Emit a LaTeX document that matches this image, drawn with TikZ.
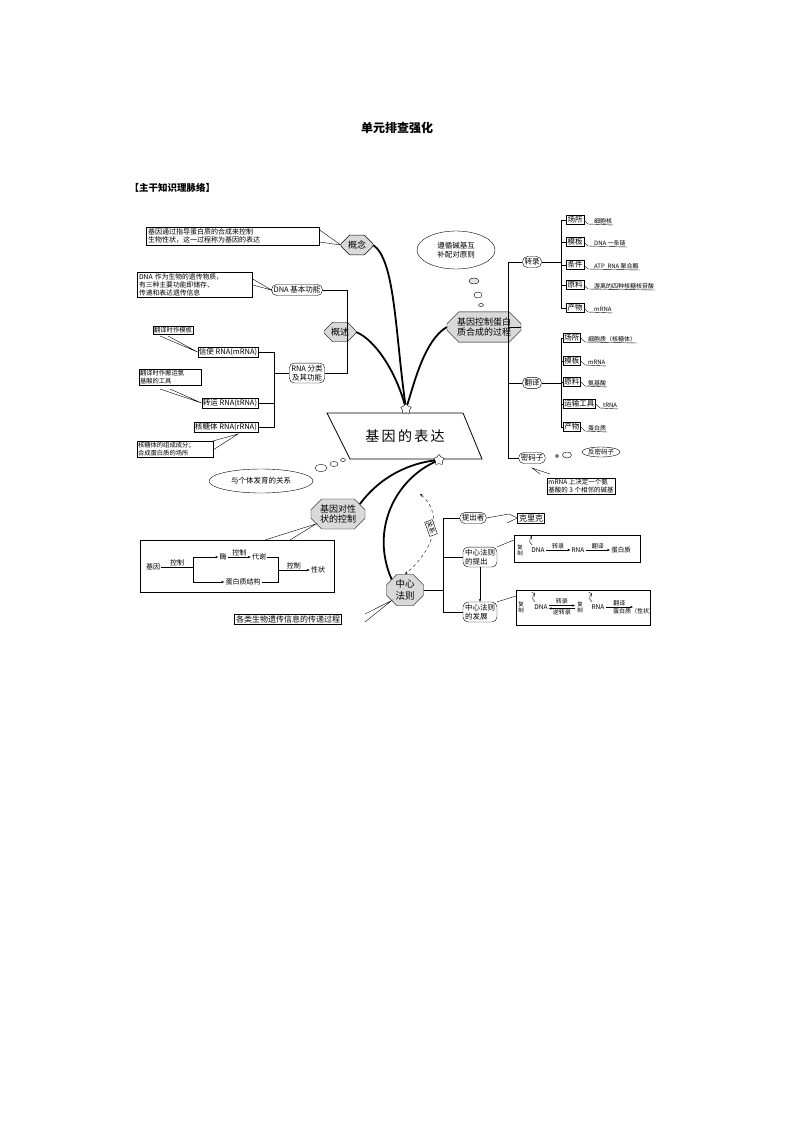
\documentclass[tikz,border=0pt]{standalone}
\usepackage{fontspec}
\setmainfont{Noto Sans CJK SC}
\usetikzlibrary{shapes.geometric,shapes.misc,shapes.symbols,arrows.meta,calc}
\begin{document}
\begin{tikzpicture}[x=1pt,y=-1pt,
 hx/.style={draw,fill=gray!30,font=\fontsize{9}{10.5}\selectfont,align=center,chamfered rectangle,chamfered rectangle xsep=5pt,inner sep=2pt},
 bx/.style={draw,font=\fontsize{7}{8.5}\selectfont,align=left,inner sep=1.5pt},
 sb/.style={draw,font=\fontsize{6.3}{7.5}\selectfont,align=left,inner sep=1.2pt},
 rb/.style={draw,rounded corners=5pt,font=\fontsize{7.5}{9}\selectfont,align=left,inner sep=2pt},
 it/.style={draw,font=\fontsize{7.5}{9}\selectfont,inner sep=1.2pt},
 val/.style={font=\fontsize{6}{7}\selectfont,inner sep=1pt,anchor=south west},
 thick curve/.style={line width=1.8pt},
 ar/.style={-{Stealth[length=3pt]},thin},
 tx/.style={font=\fontsize{7}{8}\selectfont,inner sep=1pt}]
\useasboundingbox (0,0) rectangle (794,1123);
\node[font=\bfseries\fontsize{12}{14}\selectfont] (title) at (397,128) {单元排查强化};
\node[font=\bfseries\fontsize{9.5}{11}\selectfont,anchor=west] (sub) at (126,188) {【主干知识理脉络】};

% centre
\draw[line width=0.8pt] (327,413) -- (463,413) -- (482,459) -- (350,459) -- cycle;
\node[font=\fontsize{14}{16}\selectfont] (center) at (405,436) {基\,因\,的\,表\,达};

% left top
\node[hx] (gn) at (357,245) {概念};
\node[bx,text width=170pt] (gnb) at (233,236) {基因通过指导蛋白质的合成来控制\\生物性状，这一过程称为基因的表达};
\draw ($(gnb.east)+(0,-6)$) -- (gn.west) -- ($(gnb.east)+(0,6)$);
\node[hx] (gs) at (340,332) {概述};
\node[rb] (dnaf) at (297,290) {DNA 基本功能};
\node[bx,text width=112pt,font=\fontsize{6.8}{8}\selectfont] (dnab) at (195,285) {DNA 作为生物的遗传物质，\\有三种主要功能即储存、\\传递和表达遗传信息};
\draw ($(dnab.east)+(0,-6)$) -- (dnaf.west) -- (dnab.east);
\node[rb,align=center] (rnaf) at (307,373) {RNA 分类\\及其功能};
\draw (dnaf.east) -- (347,290) -- (347,373) -- (rnaf.east);
\node[it] (m) at (228,352) {信使 RNA(mRNA)};
\node[it] (t) at (230,403) {转运 RNA(tRNA)};
\node[it] (r) at (226,427) {核糖体 RNA(rRNA)};
\draw (m.east) -- (274,352) -- (274,427) -- (r.east);
\draw (t.east) -- (274,403); \draw (274,373) -- (rnaf.west);
\node[sb] (mb) at (173,330) {翻译时作模板};
\draw (160,336) -- (m.west) -- (168,336);
\node[sb,text width=60pt] (tb) at (170,377) {翻译时作搬运氨\\基酸的工具};
\draw (160,389) -- (t.west) -- (170,389);
\node[sb,text width=74pt] (rbx) at (175,449) {核糖体的组成成分；\\合成蛋白质的场所};
\draw (213,441) -- (238,434) -- (213,450);

% right top
\node[ellipse,draw,font=\fontsize{7.5}{9}\selectfont,align=center,inner sep=0pt,minimum width=78pt,minimum height=38pt] (zx) at (456,250) {遵循碱基互\\补配对原则};
\node[ellipse,draw,fill=gray!20,minimum width=10pt,minimum height=6pt,inner sep=0pt] (b1) at (474,281) {};
\node[ellipse,draw,minimum width=8pt,minimum height=6pt,inner sep=0pt] (b2) at (478,295) {};
\node[ellipse,draw,minimum width=5pt,minimum height=3pt,inner sep=0pt] (b3) at (481,305) {};
\node[hx,chamfered rectangle xsep=8pt] (gk) at (484,327) {基因控制蛋白\\质合成的过程};
\node[rb] (zl) at (532,262) {转录};
\node[rb] (fy) at (532,383) {翻译};
\node[rb] (mmz) at (532,458) {密码子};
\draw (508,262) -- (508,458); \draw (508,262)--(zl.west); \draw (508,383)--(fy.west); \draw (508,458)--(mmz.west);
\draw (gk.east) -- (508,327);
\foreach \y/\k/\v [count=\i] in {220/场所/细胞核,242/模板/DNA 一条链,265/条件/ATP\ \ RNA 聚合酶,285/原料/游离的四种核糖核苷酸,308/产物/mRNA}{
 \node[it] (z\i) at (575,\y) {\k};
 \node[val] (zv\i) at (593,\y+5) {\v};
 \draw (z\i.east) -- ++(4,4) -- (zv\i.south east);
 \draw (561,\y) -- (z\i.west);}
\draw (561,220) -- (561,308); \draw (zl.east) -- (561,262);
\foreach \y/\k/\v [count=\i] in {338/场所/细胞质（核糖体）,361/模板/mRNA,382/原料/氨基酸,404/运输工具/tRNA,427/产物/蛋白质}{
 \node[it,anchor=west] (f\i) at (563,\y) {\k};
 \node[val] (fv\i) at ([xshift=6pt,yshift=-5pt]f\i.east) {\v};
 \draw (f\i.east) -- ++(4,4) -- (fv\i.south east);
 \draw (561,\y) -- (f\i.west);}
\draw (561,338) -- (561,427); \draw (fy.east) -- (561,383);
\node[circle,draw,minimum size=3pt,inner sep=0pt] (c1) at (557,456) {};
\node[ellipse,draw,minimum width=9pt,minimum height=6pt,inner sep=0pt] (c2) at (567,455) {};
\node[ellipse,draw,font=\fontsize{6.5}{7}\selectfont,inner sep=0.5pt] (fmz) at (601,452) {反密码子};
\node[sb,font=\fontsize{6.5}{8}\selectfont] (mrb) at (581,486) {mRNA 上决定一个氨\\基酸的 3 个相邻的碱基};
\draw (540,474) -- (532,468) -- (550,474);

% thick curves
\node[star,star points=5,draw,fill=white,minimum size=11pt,inner sep=0pt] (s1) at (406,409) {};
\draw[thick curve] (gn.east) .. controls (395,260) and (395,330) .. (s1);
\draw[thick curve] (gs.east) .. controls (375,340) and (395,370) .. (s1);
\draw[thick curve] (gk.west) .. controls (425,340) and (415,380) .. (s1);

% bottom left
\node[ellipse,draw,font=\fontsize{7.5}{9}\selectfont,minimum width=104pt,minimum height=24pt,inner sep=0pt] (gt) at (261,481) {与个体发育的关系};
\node[ellipse,draw,minimum width=12pt,minimum height=7pt,inner sep=0pt] (d1) at (321,468) {};
\node[ellipse,draw,minimum width=8pt,minimum height=5pt,inner sep=0pt] (d2) at (334,464) {};
\node[ellipse,draw,minimum width=5pt,minimum height=3pt,inner sep=0pt] (d3) at (343,460) {};
\node[hx,chamfered rectangle xsep=7pt] (xz) at (338,514) {基因对性\\状的控制};
\node[star,star points=5,draw,fill=white,minimum size=11pt,inner sep=0pt] (s2) at (439,460) {};
\draw[thick curve] (xz.north east) .. controls (385,470) and (420,462) .. (s2);
\draw (140,540) rectangle (334,592);
\draw (265,540) -- (xz.south west) -- (290,540);
\node[tx] (jy) at (153,567) {基因};
\node[tx] (mei) at (223,557) {酶};
\node[tx] (dx) at (259,557) {代谢};
\node[tx] (dbz) at (243,582) {蛋白质结构};
\node[tx] (xzz) at (318,570) {性状};
\draw (jy.east) -- (193,567) node[tx,midway,above] {控制};
\draw (193,557) -- (193,582);
\draw[ar] (193,557) -- (mei.west);
\draw[ar] (193,582) -- (dbz.west);
\draw[ar] (mei.east) -- (dx.west) node[tx,midway,above] {控制};
\draw (dx.east) -- (278,557) -- (278,582) -- (dbz.east);
\draw[ar] (278,570) -- (xzz.west) node[tx,midway,above] {控制};

% central dogma
\node[hx,chamfered rectangle xsep=7pt,font=\fontsize{9.5}{11.5}\selectfont] (zxf) at (405,590) {中心\\法则};
\draw[thick curve] (zxf.north west) .. controls (370,530) and (395,480) .. (s2);
\coordinate (rel) at (420,494);
\draw[dashed,{Stealth[length=3pt]}-{Stealth[length=3pt]}] (rel) .. controls (440,510) and (440,545) .. (zxf.north);
\node[draw,fill=white,rotate=-70,font=\fontsize{6.5}{7}\selectfont,inner sep=1pt] (gxl) at (431,528) {关系};
\node[bx,font=\fontsize{8}{9}\selectfont] (glb) at (288,619) {各类生物遗传信息的传递过程};
\draw (365,614) -- (zxf.south west) -- (365,622);
\draw (zxf.east) -- (443,590);
\draw (443,518) -- (443,612);
\node[rb] (tcz) at (473,518) {提出者};
\node[bx,font=\fontsize{8}{9}\selectfont] (klk) at (531,518) {克里克};
\draw (tcz.east) -- (509,514) -- (klk.west) -- (507,523);
\node[rb] (tc) at (480,557) {中心法则\\的提出};
\node[rb] (fz) at (480,612) {中心法则\\的发展};
\draw (443,518)--(tcz.west); \draw (443,557)--(tc.west); \draw (443,612)--(fz.west);
\draw[ar] (tc.south) -- (fz.north);
\draw (514,535) rectangle (640,562);
\draw (tc.north east) -- (514,540);
\node[font=\fontsize{5.5}{6}\selectfont,align=center,inner sep=0pt] (fz1) at (520,550) {复\\制};
\node[font=\fontsize{6.5}{7}\selectfont,inner sep=1pt] (dna1) at (538,550) {DNA};
\draw[->] (532,545) arc (120:240:5);
\node[font=\fontsize{6.5}{7}\selectfont,inner sep=1pt] (rna1) at (578,550) {RNA};
\node[font=\fontsize{6.5}{7}\selectfont,inner sep=1pt] (dbz1) at (621,550) {蛋白质};
\draw[ar] (dna1.east) -- (rna1.west) node[midway,above,font=\fontsize{6}{7}\selectfont,inner sep=1pt] {转录};
\draw[ar] (rna1.east) -- (dbz1.west) node[midway,above,font=\fontsize{6}{7}\selectfont,inner sep=1pt] {翻译};
\draw (516,590) rectangle (650,625);
\draw (fz.north east) -- (516,596);
\node[font=\fontsize{5.5}{6}\selectfont,align=center,inner sep=0pt] (fz2) at (521,607) {复\\制};
\node[font=\fontsize{6.5}{7}\selectfont,inner sep=1pt] (dna2) at (541,607) {DNA};
\draw[->] (535,602) arc (120:240:5);
\node[font=\fontsize{5.5}{6}\selectfont,align=center,inner sep=0pt] (fz3) at (580,607) {复\\制};
\node[font=\fontsize{6.5}{7}\selectfont,inner sep=1pt] (rna2) at (598,607) {RNA};
\draw[->] (592,602) arc (120:240:5);
\node[font=\fontsize{6}{7}\selectfont,inner sep=1pt,anchor=west] (dbz2) at (612,611) {蛋白质（性状）};
\draw[ar] ([yshift=1.5pt]dna2.east) -- (575,605.5) node[midway,above,font=\fontsize{6}{7}\selectfont,inner sep=1pt] {转录};
\draw[ar] (575,608.5) -- ([yshift=-1.5pt]dna2.east) node[midway,below,font=\fontsize{6}{7}\selectfont,inner sep=1pt] {逆转录};
\draw[ar] (rna2.east) -- (633,607) node[midway,above,font=\fontsize{6}{7}\selectfont,inner sep=1pt] {翻译};
\end{tikzpicture}
\end{document}
